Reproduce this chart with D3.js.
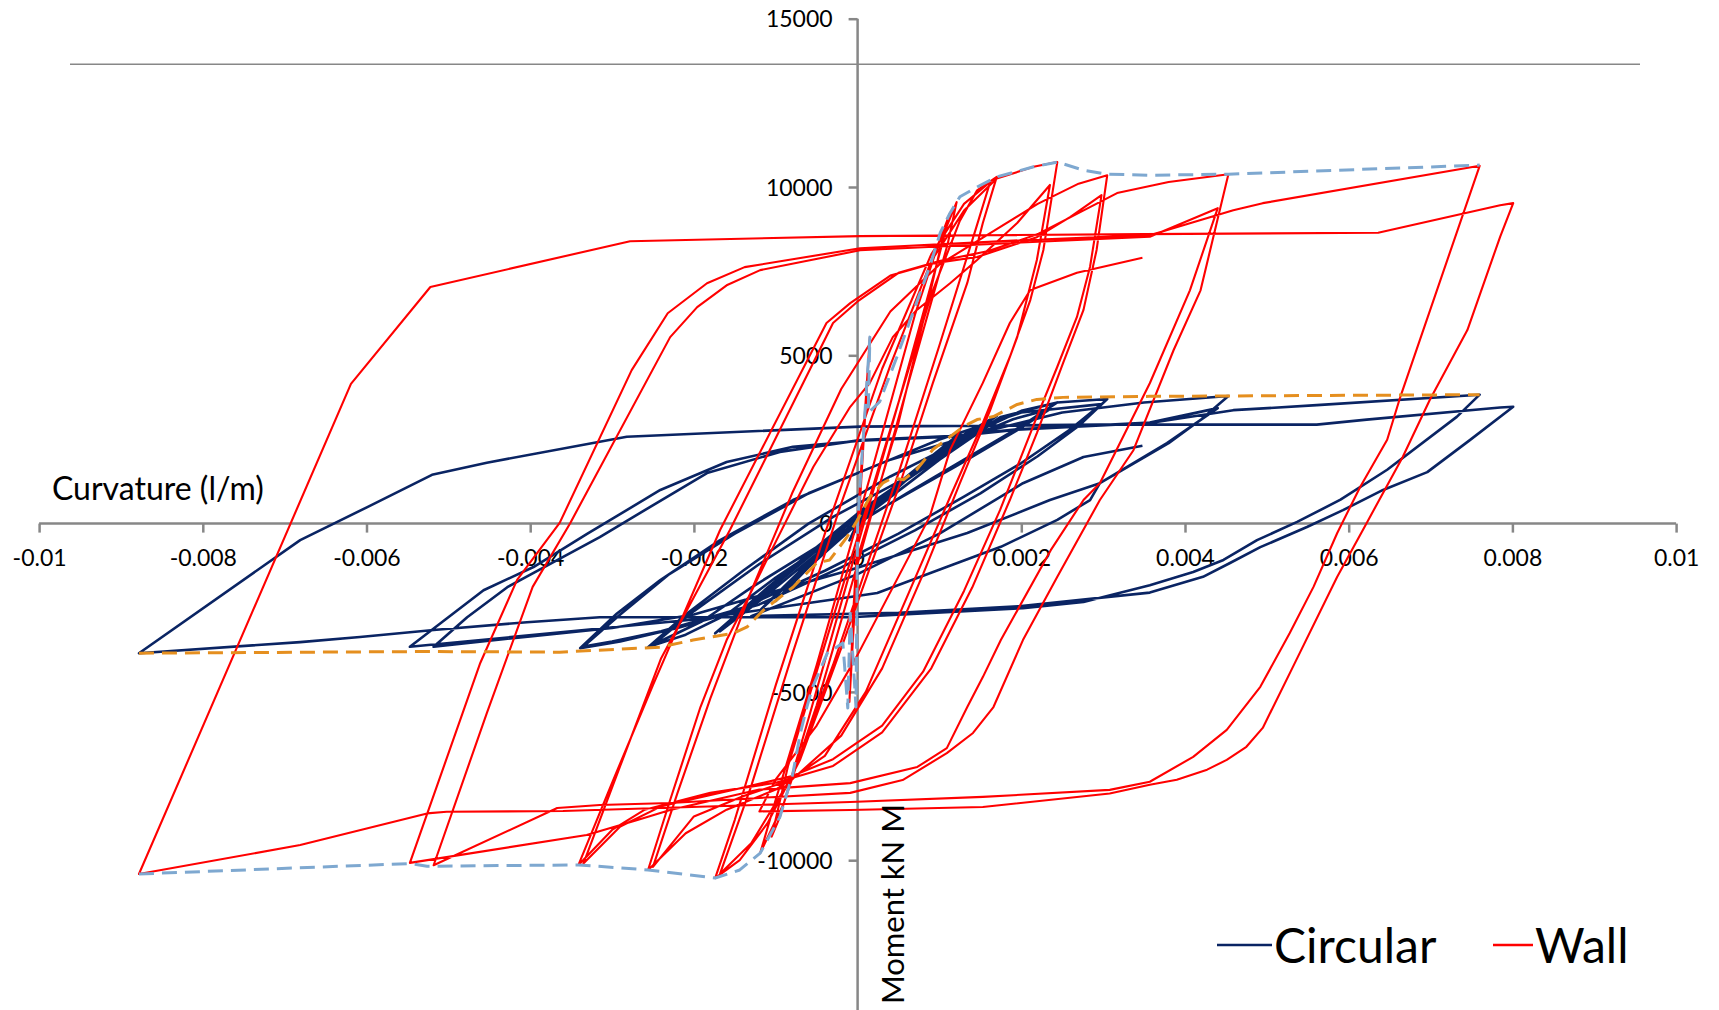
<!DOCTYPE html>
<html>
<head>
<meta charset="utf-8">
<script src="https://cdn.jsdelivr.net/npm/d3@7"></script>
<style>
  html, body { margin: 0; padding: 0; background: #fff; }
  svg { display: block; font-family: Lato, "Open Sans", sans-serif; }
</style>
</head>
<body>
<svg id="chart" width="1719" height="1010"></svg>
<script>
// Moment–curvature hysteresis of two pier sections (curvature in 1/m, moment in kN·m)

const xTicks = [-0.01, -0.008, -0.006, -0.004, -0.002, 0, 0.002, 0.004, 0.006, 0.008, 0.01];
const yTicks = [-10000, -5000, 0, 5000, 10000, 15000];

const legendSeries = ["Circular", "Wall"];

// Circular section response history [curvature, moment]
const circular = [
  [0,0],
  [0.00015,790],[0.00005,300],[-0.0001,-500],[0,-100],
  [0.0004,900],[0.0008,1800],[0.00121,2600],
  [0.0009,1900],[0.0004,900],[-0.0002,-300],[-0.0007,-1400],[-0.00119,-2570],
  [-0.0008,-1700],[-0.0003,-600],[0.0003,800],[0.0008,1800],[0.00113,2400],
  [0.0008,1700],[0.0003,700],[-0.0003,-500],[-0.0007,-1500],[-0.001,-2300],
  [-0.0006,-1300],[0,0],[0.0006,1300],[0.0012,2500],[0.0017,3200],
  [0.0013,2500],[0.0007,1500],[0.0001,500],[-0.0005,-700],[-0.0011,-1900],[-0.00174,-3260],
  [-0.0013,-2400],[-0.0006,-1000],[0.0002,600],[0.0009,1900],[0.0013,2600],[0.00162,3100],
  [0.0012,2300],[0.0006,1300],[0,300],[-0.0007,-1100],[-0.0012,-2200],[-0.00168,-3200],
  [-0.0012,-2300],[-0.0005,-900],[0.0003,600],[0.001,1900],[0.0016,2900],[0.002,3350],[0.00244,3600],
  [0.002,2900],[0.0013,1900],[0.0006,900],[-0.0002,-300],[-0.001,-1600],[-0.0016,-2700],[-0.0021,-3300],[-0.00256,-3670],
  [-0.0021,-2700],[-0.0014,-1400],[-0.0006,0],[0.0004,1400],[0.0013,2500],[0.0019,3100],[0.00235,3400],
  [0.0019,2700],[0.0012,1700],[0.0004,600],[-0.0005,-700],[-0.0013,-1900],[-0.0019,-2900],[-0.0025,-3600],
  [-0.002,-2600],[-0.0012,-1200],[-0.0003,200],[0.0007,1500],[0.00175,3170],[0.00244,3600],[0.00305,3700],
  [0.0027,2900],[0.0022,2000],[0.0015,900],[0.0007,-200],[-0.0002,-1300],[-0.0012,-2400],[-0.0022,-3100],[-0.0029,-3500],[-0.00339,-3700],
  [-0.00294,-2670],[-0.00241,-1680],[-0.00168,-490],[-0.00079,700],[0.0002,1700],[0.001,2500],[0.002,3300],[0.00298,3550],
  [0.0026,2800],[0.002,1800],[0.0013,800],[0.0005,-300],[-0.0004,-1400],[-0.0014,-2500],[-0.0024,-3200],[-0.003,-3500],[-0.00335,-3650],
  [-0.0029,-2700],[-0.0023,-1500],[-0.0015,-300],[-0.0006,900],[0.0004,1900],[0.0015,2700],[0.0025,3300],[0.0035,3600],[0.00453,3790],
  [0.0042,3100],[0.0038,2390],[0.00296,1200],[0.00235,700],[0.00134,-280],[-0.00009,-1380],[-0.001,-2000],[-0.002,-2700],[-0.003,-3100],[-0.004,-3350],[-0.00518,-3660],
  [-0.00477,-2780],[-0.00428,-1890],[-0.00371,-1140],[-0.00315,-400],[-0.0026,400],[-0.00184,1500],[-0.00095,2130],[0.00003,2480],[0.00113,2600],[0.00195,2800],[0.00357,3000],[0.0044,3430],
  [0.00378,2390],[0.00296,1200],[0.00284,700],[0.00244,110],[0.00175,-690],[0.00089,-1470],[0.00024,-2060],[-0.00009,-2180],[-0.001,-2500],[-0.002,-2850],[-0.0035,-3200],[-0.00547,-3660],
  [-0.00457,-1980],[-0.00396,-1290],[-0.0033,-300],[-0.00241,1000],[-0.0016,1830],[-0.00079,2280],[0.00003,2460],[0.00113,2580],[0.00195,2790],[0.00357,2990],[0.00459,3370],[0.00561,3520],[0.0076,3830],
  [0.00732,3170],[0.00647,1600],[0.0059,710],[0.00537,50],[0.00488,-490],[0.00447,-1080],[0.0041,-1440],[0.00357,-1830],[0.00276,-2330],[0.00202,-2510],[-0.00009,-2780],[-0.00119,-2780],[-0.00315,-2780],[-0.00404,-2930],[-0.00518,-3160],[-0.00608,-3370],[-0.00681,-3520],[-0.00878,-3850],
  [-0.00681,-490],[-0.00599,490],[-0.0052,1450],[-0.00453,1810],[-0.00315,2430],[-0.00282,2580],[0.00003,2880],[0.00296,2940],[0.00561,2940],[0.00622,3090],[0.00785,3450],[0.00801,3470],
  [0.00748,2480],[0.00696,1530],[0.00642,1000],[0.00593,400],[0.00549,-100],[0.00492,-700],[0.00455,-1170],[0.00422,-1580],[0.00357,-2050],[0.002,-2450],[0.0005,-2650],[-0.0013,-2750],
  [0,-1500],[0.001,-300],[0.00202,1200],[0.00276,1980],[0.00348,2310]
];

// Wall section response history [curvature, moment]
const wall = [
  [0,0],
  [0.00015,5540],[0.00005,1500],[-0.00005,-2500],[-0.0001,-5300],[0,-1000],
  [0.0005,3000],[0.0009,7000],[0.00105,8600],[0.00121,9550],
  [0.0011,8300],[0.0006,4000],[0,-1200],[-0.0005,-5400],[-0.0009,-8300],[-0.00119,-9790],
  [-0.001,-8200],[-0.0005,-4200],[0.0002,1800],[0.0007,6200],[0.001,8400],[0.00113,9230],
  [0.001,8000],[0.0005,3600],[-0.0001,-1500],[-0.0006,-5800],[-0.00095,-8720],[-0.00105,-9300],
  [-0.00085,-7200],[-0.0003,-2800],[0.0004,2800],[0.0009,6800],[0.00125,9000],[0.00146,9900],[0.0017,10300],
  [0.00153,8930],[0.00134,7150],[0.00092,4180],[0.00052,1200],[-0.0002,-3700],[-0.0007,-7000],[-0.0011,-8900],[-0.00144,-10000],[-0.00174,-10530],
  [-0.0015,-8800],[-0.001,-4800],[-0.0004,-300],[0.0003,4600],[0.0009,8000],[0.0013,9500],[0.00162,10150],
  [0.00145,8800],[0.001,5300],[0.0005,1500],[-0.0003,-4200],[-0.0008,-7500],[-0.0013,-9500],[-0.00168,-10400],
  [-0.0013,-7800],[-0.0008,-3900],[-0.0002,600],[0.0004,4700],[0.0009,7800],[0.0013,9300],[0.0017,10250],[0.00215,10600],[0.00244,10740],
  [0.00227,8130],[0.00211,6640],[0.00186,4950],[0.00153,2990],[0.00113,790],[0.0006,-2200],[0.0001,-5000],[-0.0004,-6900],[-0.001,-7900],[-0.0016,-8500],[-0.0021,-9200],[-0.00256,-10290],
  [-0.00229,-8210],[-0.00192,-5450],[-0.0016,-3460],[-0.00135,-2270],[-0.00099,-490],[-0.00054,1690],[-0.00009,3470],[0.00015,4180],[0.00043,5540],[0.00072,6340],[0.00113,7140],[0.00146,7830],[0.00195,8930],[0.00235,10060],
  [0.00219,7830],[0.00195,5540],[0.00162,3370],[0.00125,1200],[0.0008,-1500],[0.0003,-4300],[-0.0002,-6300],[-0.0008,-7600],[-0.0014,-8100],[-0.002,-8700],[-0.0025,-10200],
  [-0.0022,-8000],[-0.0018,-5200],[-0.0013,-2000],[-0.0008,900],[-0.0002,4000],[0.0004,6300],[0.001,7700],[0.0016,8600],[0.0022,9500],[0.0027,10100],[0.00305,10350],
  [0.00292,8130],[0.00276,6350],[0.00251,4770],[0.00219,2690],[0.00186,700],[0.0014,-1900],[0.0009,-4300],[0.0003,-6200],[-0.0003,-7200],[-0.001,-7700],[-0.0018,-8000],[-0.0026,-8500],[-0.003,-9100],[-0.00341,-10140],
  [-0.003,-7700],[-0.0025,-4800],[-0.00168,-190],[-0.00038,5960],[-0.00009,6550],[0.0004,7370],[0.00092,7730],[0.00146,7920],[0.00219,8510],[0.0026,9110],[0.00298,9760],
  [0.00284,7630],[0.00268,6140],[0.00244,4660],[0.00219,3170],[0.00195,1690],[0.00174,400],[0.0013,-2000],[0.0008,-4400],[0.0003,-6000],[-0.0003,-7000],[-0.0008,-7500],[-0.0015,-7900],[-0.0024,-8400],[-0.0029,-9000],[-0.00335,-10100],
  [-0.0029,-7200],[-0.0024,-4000],[-0.00156,-190],[-0.0003,5960],[0,6600],[0.0005,7450],[0.001,7800],[0.0016,8100],[0.0022,8600],[0.00317,9820],[0.0038,10150],[0.00453,10380],
  [0.00419,6930],[0.00386,5150],[0.00337,2180],[0.00296,700],[0.00244,-1580],[0.00202,-3460],[0.00166,-5450],[0.00141,-6220],[0.00109,-6820],[0.00055,-7620],[-0.00009,-8000],[-0.0012,-8150],[-0.00229,-8300],[-0.00315,-8360],[-0.00367,-8450],[-0.00518,-10150],
  [-0.00453,-5630],[-0.00397,-1880],[-0.00351,20],[-0.00229,5540],[-0.00196,6430],[-0.0016,7080],[-0.00119,7530],[0.00003,8120],[0.002,8350],[0.00357,8520],[0.0044,9370],
  [0.00406,6930],[0.00357,4170],[0.00296,1200],[0.00276,700],[0.00236,-790],[0.00175,-3460],[0.00153,-4560],[0.00134,-5450],[0.00109,-6670],[0.00073,-7230],[-0.00009,-7710],[-0.0012,-7900],[-0.00229,-8510],[-0.0027,-8810],[-0.00331,-9250],[-0.00547,-10080],
  [-0.00461,-4140],[-0.00416,-1670],[-0.00364,20],[-0.00276,4560],[-0.00232,6250],[-0.00184,7140],[-0.00138,7620],[0.00003,8180],[0.002,8420],[0.00357,8570],[0.00459,9310],[0.00495,9520],[0.0076,10630],
  [0.00663,3760],[0.00647,2490],[0.00614,1090],[0.00586,-280],[0.00557,-1880],[0.00528,-3250],[0.00492,-4850],[0.00451,-6130],[0.0041,-6930],[0.00357,-7670],[0.00308,-7910],[0.00153,-8120],[-0.00009,-8270],[-0.0036,-8540],[-0.00502,-8560],[-0.00526,-8610],[-0.00681,-9550],[-0.00878,-10410],
  [-0.00619,4150],[-0.00522,7030],[-0.00278,8390],[0.00003,8540],[0.0035,8600],[0.00636,8640],[0.00785,9460],[0.00801,9520],
  [0.00785,8520],[0.00745,5750],[0.00699,3670],[0.00666,1980],[0.00622,20],[0.00586,-1580],[0.00532,-4250],[0.00495,-6070],[0.00475,-6630],[0.00451,-7020],[0.00427,-7310],[0.0039,-7610],[0.00357,-7760],[0.00308,-8020],[0.00153,-8420],[-0.00009,-8510],[-0.0012,-8550],
  [-0.001,-7600],[-0.0005,-6000],[0,-3900],[0.00088,200],[0.00113,2190],[0.00153,4180],[0.00186,5960],[0.00211,6940],[0.00268,7450],[0.00348,7900]
];

// Backbone (envelope) of the wall response
const wallEnvelope = [
  [-0.00878,-10410],[-0.00547,-10100],[-0.00526,-10180],[-0.00341,-10140],[-0.00256,-10290],[-0.00174,-10530],
  [-0.00144,-10290],[-0.00119,-9790],[-0.00095,-8720],[-0.00079,-7420],[-0.0007,-6230],[-0.00062,-5450],
  [-0.00055,-4860],[-0.00037,-3850],[-0.00018,-3550],[-0.00012,-5480],[-0.00009,-2660],[-0.00002,-5450],[0,0],
  [0.00015,5540],[0.00013,3290],[0.00027,3620],[0.00048,4950],[0.00072,6560],[0.00088,7630],[0.00101,8640],
  [0.00113,9230],[0.00125,9710],[0.00146,10000],[0.0017,10300],[0.00215,10600],[0.00244,10740],[0.00276,10500],
  [0.00305,10380],[0.00357,10350],[0.00453,10380],[0.0076,10650]
];

// Backbone (envelope) of the circular response
const circularEnvelope = [
  [-0.00878,-3850],[-0.00526,-3800],[-0.00364,-3820],[-0.00241,-3670],[-0.00201,-3460],[-0.00152,-3260],
  [-0.00135,-3070],[-0.00115,-2570],[-0.00079,-1890],[-0.0005,-1170],[-0.00034,-1080],[-0.00013,-400],[0,110],
  [0.00015,790],[0.00031,1210],[0.00043,1360],[0.00056,1300],[0.00072,1600],[0.00092,2200],[0.00113,2580],
  [0.00129,2880],[0.00146,3090],[0.00166,3180],[0.00178,3330],[0.00195,3540],[0.00219,3690],[0.00251,3750],
  [0.00357,3780],[0.0076,3830]
];

const colors = { circular: "#0a2463", wall: "#ff0000", wallEnv: "#7ea8d0", circEnv: "#e58f1f" };
const axisColor = "#878787";

const svg = d3.select("#chart");

const x = d3.scaleLinear().domain([-0.01, 0.01]).range([39.1, 1676.1]);
const y = d3.scaleLinear().domain([-15000, 15000]).range([1028.5, 18.7]);

// Top frame line of the plot area
svg.append("line")
  .attr("x1", 70).attr("x2", 1640)
  .attr("y1", y(13650)).attr("y2", y(13650))
  .attr("stroke", axisColor).attr("stroke-width", 1.5);

const line = d3.line().x(d => x(d[0])).y(d => y(d[1]));

function drawSeries(data, color, width, dash) {
  const p = svg.append("path")
    .datum(data)
    .attr("d", line)
    .attr("fill", "none")
    .attr("stroke", color)
    .attr("stroke-width", width)
    .attr("stroke-linejoin", "round");
  if (dash) p.attr("stroke-dasharray", dash);
}

// Axes through the origin
const xAxis = d3.axisBottom(x).tickValues(xTicks).tickSize(9).tickPadding(17)
  .tickFormat(d => d === 0 ? "0" : String(+d.toFixed(3)));
const yAxis = d3.axisLeft(y).tickValues(yTicks).tickSize(9).tickPadding(16)
  .tickFormat(d => String(d));

const gx = svg.append("g").attr("transform", `translate(0,${y(0)})`).call(xAxis);
const gy = svg.append("g").attr("transform", `translate(${x(0)},0)`).call(yAxis);

[gx, gy].forEach(g => {
  g.select(".domain").attr("stroke", axisColor).attr("stroke-width", 2.5);
  g.selectAll(".tick line").attr("stroke", axisColor).attr("stroke-width", 2.5);
  g.selectAll(".tick text").attr("fill", "#000").style("font-size", "23px")
    .style("font-family", "Lato, 'Open Sans', sans-serif");
});
gy.select(".domain").attr("d", `M0,${y(15000)}V1010`);
gx.select(".domain").attr("d", `M${x(-0.01)},0H${x(0.01)}`);
gy.selectAll(".tick text").attr("dy", "0.36em");

// Series
drawSeries(circular, colors.circular, 2.6, null);
drawSeries(wall, colors.wall, 2.1, null);
drawSeries(wallEnvelope, colors.wallEnv, 3, "15,8");
drawSeries(circularEnvelope, colors.circEnv, 3, "15,8");

// Axis titles
svg.append("text")
  .attr("x", 52).attr("y", 500)
  .style("font-size", "32px").attr("fill", "#000")
  .text("Curvature (l/m)");

svg.append("text")
  .attr("transform", "translate(904,804) rotate(-90)")
  .attr("text-anchor", "end")
  .style("font-size", "31px").attr("fill", "#000")
  .text("Moment kN M");

// Legend
const legendPos = [
  { name: legendSeries[0], color: colors.circular, x1: 1217, x2: 1272, tx: 1274 },
  { name: legendSeries[1], color: colors.wall, x1: 1493, x2: 1533, tx: 1535 }
];
legendPos.forEach(l => {
  svg.append("line")
    .attr("x1", l.x1).attr("x2", l.x2).attr("y1", 945).attr("y2", 945)
    .attr("stroke", l.color).attr("stroke-width", 2.6);
  svg.append("text")
    .attr("x", l.tx).attr("y", 963)
    .style("font-size", "48px").attr("fill", "#000")
    .text(l.name);
});
</script>
</body>
</html>
